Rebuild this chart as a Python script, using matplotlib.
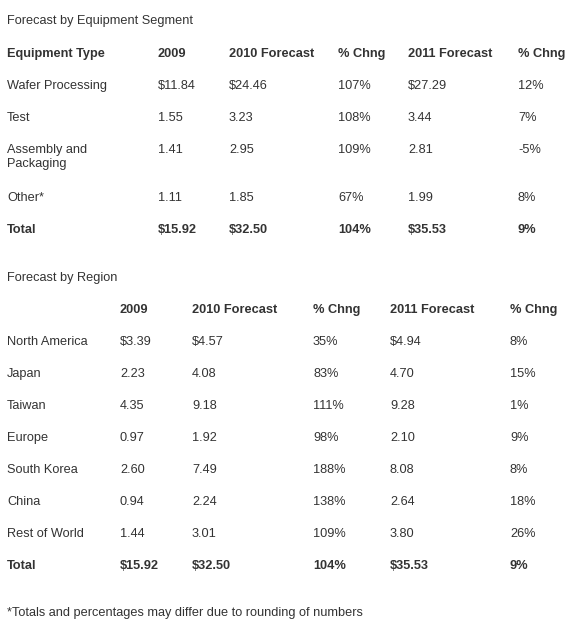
import matplotlib.pyplot as plt

# equipment segment table
seg_header = ['Equipment Type', '2009', '2010 Forecast', '% Chng', '2011 Forecast', '% Chng']
seg_names = ['Wafer Processing', 'Test', 'Assembly and\nPackaging', 'Other*']
seg_2009 = ['$11.84', '1.55', '1.41', '1.11']
seg_2010 = ['$24.46', '3.23', '2.95', '1.85']
seg_chg10 = ['107%', '108%', '109%', '67%']
seg_2011 = ['$27.29', '3.44', '2.81', '1.99']
seg_chg11 = ['12%', '7%', '-5%', '8%']
seg_total = ['Total', '$15.92', '$32.50', '104%', '$35.53', '9%']

# region table
reg_header = ['', '2009', '2010 Forecast', '% Chng', '2011 Forecast', '% Chng']
reg_names = ['North America', 'Japan', 'Taiwan', 'Europe', 'South Korea', 'China', 'Rest of World']
reg_2009 = ['$3.39', '2.23', '4.35', '0.97', '2.60', '0.94', '1.44']
reg_2010 = ['$4.57', '4.08', '9.18', '1.92', '7.49', '2.24', '3.01']
reg_chg10 = ['35%', '83%', '111%', '98%', '188%', '138%', '109%']
reg_2011 = ['$4.94', '4.70', '9.28', '2.10', '8.08', '2.64', '3.80']
reg_chg11 = ['8%', '15%', '1%', '9%', '8%', '18%', '26%']
reg_total = ['Total', '$15.92', '$32.50', '104%', '$35.53', '9%']

W, H = 575, 636
fig = plt.figure(figsize=(W / 100, H / 100), dpi=100)
fig.patch.set_facecolor('white')
plt.rcParams['font.family'] = ['Liberation Sans', 'DejaVu Sans']
color = '#333333'
fs = 9.2


def put(x, y, s, bold=False):
    fig.text(x / W, 1 - y / H, s, fontsize=fs, color=color, va='top', ha='left',
             fontweight='bold' if bold else 'normal', linespacing=1.2)


def table(title, ty, header, rows, total, xs, y0):
    put(7, ty, title)
    for x, s in zip(xs, header):
        put(x, y0, s, bold=True)
    y = y0 + 32
    for row in rows:
        for x, s in zip(xs, row):
            put(x, y, s)
        y += 48 if '\n' in row[0] else 32
    for x, s in zip(xs, total):
        put(x, y, s, bold=True)


seg_rows = list(zip(seg_names, seg_2009, seg_2010, seg_chg10, seg_2011, seg_chg11))
table('Forecast by Equipment Segment', 15, seg_header, seg_rows, seg_total,
      [7, 158, 229, 338, 408, 518], 48)

reg_rows = list(zip(reg_names, reg_2009, reg_2010, reg_chg10, reg_2011, reg_chg11))
table('Forecast by Region', 272, reg_header, reg_rows, reg_total,
      [7, 120, 192, 313, 390, 510], 304)

put(7, 607, '*Totals and percentages may differ due to rounding of numbers')

fig.savefig('out.png', dpi=100)
